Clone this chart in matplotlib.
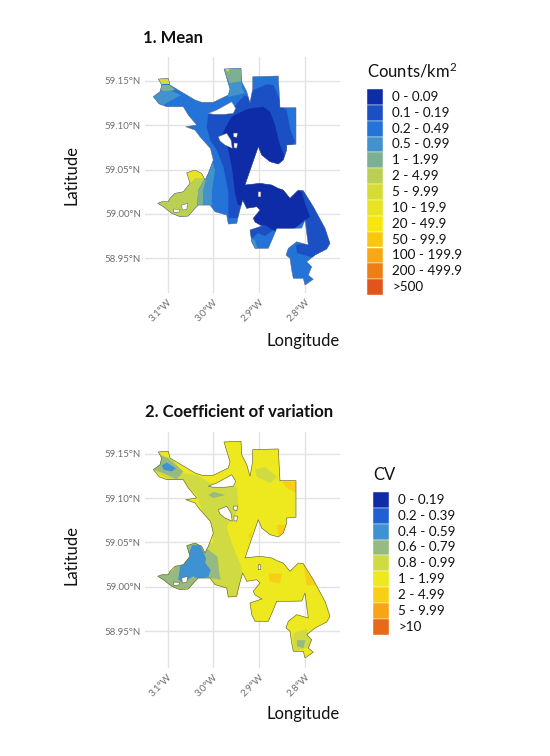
import numpy as np
import matplotlib
matplotlib.use("Agg")
import matplotlib.pyplot as plt
from matplotlib.path import Path
from matplotlib.patches import PathPatch, Rectangle

plt.rcParams['font.family'] = ['Lato', 'DejaVu Sans']
plt.rcParams['mathtext.default'] = 'regular'

# ---------- legend data ----------
mean_labels = ["0 - 0.09", "0.1 - 0.19", "0.2 - 0.49", "0.5 - 0.99", "1 - 1.99", "2 - 4.99", "5 - 9.99",
               "10 - 19.9", "20 - 49.9", "50 - 99.9", "100 - 199.9", "200 - 499.9", ">500"]
mean_colors = ["#0F2CA8", "#1A50C4", "#2473D8", "#4293CC", "#7DB092", "#BBD052", "#D5DC33",
               "#E8E325", "#F8E60F", "#F9C80E", "#F9A815", "#EE7F14", "#E2551A"]
cv_labels = ["0 - 0.19", "0.2 - 0.39", "0.4 - 0.59", "0.6 - 0.79", "0.8 - 0.99", "1 - 1.99", "2 - 4.99", "5 - 9.99", ">10"]
cv_colors = ["#0F2CA8", "#2060D0", "#3F92D2", "#97B982", "#D0DA42", "#EEE81E", "#F8CF14", "#F7A416", "#E86A18"]

lon_ticks = [-3.1, -3.0, -2.9, -2.8]
lon_ticklabels = ["3.1°W", "3.0°W", "2.9°W", "2.8°W"]
lat_ticks = [59.15, 59.10, 59.05, 59.00, 58.95]
lat_ticklabels = ["59.15°N", "59.10°N", "59.05°N", "59.00°N", "58.95°N"]

# ---------- survey-area boundary (lon, lat) ----------
boundary = [(-3.1206,59.1519),(-3.0987,59.1527),(-3.0950,59.1452),(-3.0768,59.1395),(-3.0584,59.1339),(-3.0403,59.1283),
 (-3.0256,59.1257),(-3.0002,59.1257),(-2.9674,59.1339),(-2.9637,59.1407),(-2.9768,59.1632),(-2.9396,59.1640),
 (-2.9381,59.1489),(-2.9271,59.1376),(-2.9199,59.1246),(-2.9140,59.1414),(-2.9140,59.1545),(-2.8580,59.1553),
 (-2.8543,59.1196),(-2.8193,59.1196),(-2.8193,59.0784),(-2.8396,59.0776),(-2.8396,59.0720),(-2.8471,59.0607),
 (-2.8580,59.0562),(-2.8762,59.0588),(-2.8943,59.0663),(-2.9018,59.0757),(-2.9309,59.0326),(-2.8980,59.0345),
 (-2.8724,59.0326),(-2.8580,59.0288),(-2.8471,59.0269),(-2.8324,59.0176),(-2.8142,59.0269),(-2.8033,59.0261),
 (-2.7814,59.0081),(-2.7558,58.9838),(-2.7449,58.9669),(-2.7521,58.9605),(-2.7777,58.9537),(-2.7959,58.9462),(-2.7849,58.9406),
 (-2.7924,58.9312),(-2.7814,58.9264),(-2.7996,58.9200),(-2.8033,58.9275),(-2.8252,58.9275),(-2.8287,58.9368),
 (-2.8324,58.9500),(-2.8412,58.9537),(-2.8361,58.9613),(-2.8178,58.9687),(-2.7924,58.9650),(-2.7996,58.9931),
 (-2.8068,58.9841),(-2.8324,58.9838),(-2.8615,58.9838),(-2.8689,58.9743),(-2.8799,58.9613),(-2.9090,58.9613),
 (-2.9162,58.9687),(-2.9199,58.9819),(-2.8937,58.9864),(-2.9090,58.9909),(-2.9127,58.9951),(-2.8980,59.0044),
 (-2.9053,59.0081),(-2.9271,59.0063),(-2.9359,59.0157),(-2.9418,59.0052),(-2.9455,58.9977),(-2.9490,58.9894),
 (-2.9674,58.9886),(-2.9709,58.9988),(-2.9965,59.0025),(-3.0074,59.0100),(-3.0330,59.0100),(-3.0403,59.0063),
 (-3.0549,58.9976),(-3.0731,58.9969),(-3.0912,59.0007),(-3.1096,59.0081),(-3.1219,59.0120),(-3.1131,59.0137),
 (-3.0987,59.0137),(-3.0950,59.0176),(-3.0840,59.0232),(-3.0659,59.0250),(-3.0512,59.0345),(-3.0584,59.0464),
 (-3.0403,59.0494),(-3.0256,59.0457),(-3.0184,59.0382),(-3.0112,59.0457),(-3.0002,59.0607),(-3.0064,59.0737),
 (-3.0293,59.0869),(-3.0403,59.0945),(-3.0606,59.0982),(-3.0365,59.1001),(-3.0549,59.1114),(-3.0659,59.1207),
 (-3.0731,59.1207),(-3.1022,59.1207),(-3.1190,59.1240),(-3.1315,59.1320),(-3.1168,59.1376),(-3.1131,59.1452)]
holes = [
 [(-3.0112,59.1133),(-2.9928,59.1170),(-2.9600,59.1263),(-2.9512,59.1189),(-2.9565,59.1133),(-2.9746,59.1122),(-3.0002,59.1122)],
 [(-2.9893,59.0869),(-2.9709,59.0908),(-2.9615,59.0832),(-2.9587,59.0739),(-2.9746,59.0776),(-2.9856,59.0821)],
 [(-2.956,59.091),(-2.947,59.091),(-2.949,59.086),(-2.956,59.087)],
 [(-2.955,59.080),(-2.947,59.0795),(-2.949,59.074),(-2.955,59.0745)],
 [(-3.0694,59.0100),(-3.0562,59.0119),(-3.0584,59.0052),(-3.0681,59.0044)],
 [(-3.0877,59.0055),(-3.0731,59.0050),(-3.0753,59.0022),(-3.0862,59.0016)],
 [(-2.9018,59.0250),(-2.8965,59.0250),(-2.8965,59.0194),(-2.9018,59.0194)],
]

# ---------- mean density classes: areas (lon, lat), painted in order ----------
mean_base_class = 2
mean_zones = [
 (1, [(-3.0112,59.1125),(-2.9615,59.1125),(-2.9490,59.1245),(-2.9309,59.1339),(-2.9199,59.1302),(-2.9127,59.1395),
      (-2.8834,59.1459),(-2.8689,59.1452),(-2.8558,59.1302),(-2.8506,59.1207),(-2.8396,59.1170),(-2.8324,59.0964),
      (-2.8215,59.0813),(-2.8324,59.0720),(-2.7339,59.0269),(-2.7230,58.9672),(-2.7624,58.9515),(-2.7865,58.9515),
      (-2.8171,58.9560),(-2.8193,58.9650),(-2.7924,58.9672),(-2.7996,58.9988),(-2.8630,58.9841),(-2.8871,58.9751),
      (-2.9024,58.9785),(-2.9199,58.9706),(-2.9309,58.9875),(-2.9352,59.0100),(-2.9455,58.9954),(-2.9674,58.9954),
      (-2.9674,59.0250),(-2.9783,59.0532),(-2.9928,59.0720),(-3.0074,59.0832),(-3.0147,59.0982)]),
 (0, [(-2.9600,59.1095),(-2.9309,59.1170),(-2.9199,59.1189),(-2.8908,59.1207),(-2.8762,59.1151),(-2.8653,59.1001),
      (-2.8543,59.0776),(-2.8455,59.0663),(-2.8324,59.0494),(-2.8280,59.0269),(-2.8068,59.0250),(-2.7996,59.0119),
      (-2.7887,58.9969),(-2.8018,58.9920),(-2.8324,58.9796),(-2.8630,58.9796),(-2.8871,58.9875),(-2.9199,58.9875),
      (-2.9309,59.0100),(-2.9462,59.0100),(-2.9527,59.0232),(-2.9587,59.0494),(-2.9674,59.0720),(-2.9805,59.0889),
      (-2.9746,59.0964)]),
 (3, [(-3.1344,59.1382),(-3.0993,59.1404),(-3.0709,59.1339),(-3.0950,59.1271),(-3.1125,59.1215),(-3.1387,59.1215)]),
 (3, [(-2.9724,59.1530),(-2.9374,59.1530),(-2.9374,59.1418),(-2.9309,59.1361),(-2.9681,59.1317)]),
 (3, [(-3.0112,59.0494),(-3.0031,59.0607),(-2.9965,59.0494),(-3.0031,59.0269),(-3.0037,59.0078),(-3.0228,59.0078),
      (-3.0221,59.0269),(-3.0184,59.0382)]),
 (3, [(-2.9199,58.9738),(-2.9090,58.9706),(-2.9024,58.9593),(-2.9199,58.9593)]),
 (5, [(-3.139,59.053),(-3.014,59.053),(-3.0184,59.0404),(-3.0330,59.0269),(-3.0359,59.0078),(-3.04,58.99),(-3.139,58.99)]),
 (4, [(-3.0184,59.0404),(-3.0140,59.0438),(-3.0221,59.0269),(-3.0228,59.0078),(-3.0359,59.0078),(-3.0330,59.0269)]),
 (4, [(-3.1131,59.1452),(-3.0950,59.1452),(-3.0840,59.1395),(-3.1059,59.1384),(-3.1168,59.1395)]),
 (4, [(-2.9768,59.1640),(-2.9396,59.1640),(-2.9396,59.1495),(-2.9637,59.1474),(-2.9724,59.1556)]),
 (6, [(-3.1278,59.1564),(-3.0906,59.1564),(-3.0950,59.1463),(-3.1147,59.1463)]),
 (6, [(-2.9812,59.1677),(-2.9593,59.1677),(-2.9681,59.1598)]),
 (7, [(-3.0606,59.0494),(-3.0256,59.0494),(-3.0184,59.0404),(-3.0403,59.0404),(-3.0512,59.0345)]),
]

# ---------- CV classes ----------
cv_base_class = 5
cv_zones = [
 (4, [(-3.135,59.132),(-3.117,59.150),(-3.088,59.143),(-3.066,59.128),(-3.036,59.126),(-3.007,59.117),(-2.949,59.113),
      (-2.945,59.087),(-2.971,59.068),(-2.960,59.049),(-2.942,59.027),(-2.934,59.012),(-2.942,58.993),(-2.963,58.985),
      (-2.993,59.004),(-3.015,59.027),(-3.000,59.053),(-3.004,59.068),(-3.026,59.087),(-3.036,59.1035),(-3.058,59.113),
      (-3.095,59.120)]),
 (4, [(-2.909,59.132),(-2.887,59.135),(-2.861,59.124),(-2.876,59.117),(-2.905,59.124)]),
 (4, [(-2.825,58.948),(-2.796,58.953),(-2.782,58.933),(-2.825,58.927)]),
 (4, [(-3.120,59.010),(-3.066,59.019),(-3.062,59.049),(-3.000,59.049),(-2.989,59.000),(-3.051,58.993),(-3.102,58.996)]),
 (3, [(-3.120,59.012),(-3.088,59.019),(-3.062,59.049),(-3.029,59.049),(-2.991,59.034),(-2.987,59.015),(-2.984,59.008),
      (-3.007,59.010),(-3.044,59.000),(-3.080,58.996),(-3.109,59.002)]),
 (3, [(-3.130,59.132),(-3.117,59.148),(-3.099,59.145),(-3.066,59.130),(-3.080,59.121),(-3.109,59.128)]),
 (3, [(-3.011,59.1035),(-3.000,59.107),(-2.974,59.1035),(-3.000,59.100)]),
 (3, [(-2.817,58.940),(-2.799,58.940),(-2.803,58.931),(-2.817,58.933)]),
 (2, [(-3.058,59.032),(-3.047,59.047),(-3.029,59.047),(-3.016,59.032),(-3.018,59.027),(-3.006,59.019),(-3.011,59.011),
      (-3.033,59.009),(-3.044,59.012),(-3.066,59.005),(-3.077,59.008),(-3.073,59.023)]),
 (2, [(-3.113,59.137),(-3.102,59.140),(-3.082,59.1335),(-3.091,59.130),(-3.109,59.132)]),
 (6, [(-2.880,59.015),(-2.850,59.015),(-2.854,59.004),(-2.876,59.006)]),
 (6, [(-2.803,59.027),(-2.792,59.015),(-2.775,59.002),(-2.796,59.002)]),
 (6, [(-2.861,59.070),(-2.839,59.070),(-2.843,59.062),(-2.858,59.0585)]),
 (6, [(-2.850,59.1185),(-2.814,59.1185),(-2.814,59.105),(-2.839,59.111)]),
 (6, [(-2.923,59.0585),(-2.916,59.062),(-2.920,59.053)]),
]

W, H = 550, 756
fig = plt.figure(figsize=(W / 100, H / 100), dpi=100, facecolor="white")


def signed_area(p):
    a = np.asarray(p)
    return 0.5 * np.sum(a[:, 0] * np.roll(a[:, 1], -1) - np.roll(a[:, 0], -1) * a[:, 1])


def ring(p, sign):
    p = list(p)
    if np.sign(signed_area(p)) != sign:
        p = p[::-1]
    return p


def area_path():
    verts, codes = [], []
    for i, r in enumerate([boundary] + holes):
        q = ring(r, 1 if i == 0 else -1)
        verts += q + [q[0]]
        codes += [Path.MOVETO] + [Path.LINETO] * (len(q) - 1) + [Path.CLOSEPOLY]
    return Path(verts, codes)


def draw_map(top, bottom, xlim, ylim, colors, base, zones, edge, edge_lw):
    ax = fig.add_axes([145 / W, 1 - bottom / H, 195 / W, (bottom - top) / H])
    ax.set_xlim(*xlim)
    ax.set_ylim(*ylim)
    ax.set_axisbelow(True)
    ax.grid(True, color="#e2e2e2", lw=1.0)
    for s in ax.spines.values():
        s.set_visible(False)
    ax.set_xticks(lon_ticks, lon_ticklabels, rotation=45, ha="right", rotation_mode="anchor")
    ax.set_yticks(lat_ticks, lat_ticklabels)
    ax.tick_params(length=0, labelsize=7, labelcolor="#6e6e6e", pad=3)
    path = area_path()
    clip = PathPatch(path, fc=colors[base], ec="none", zorder=2)
    ax.add_patch(clip)
    for cls, poly in zones:
        xs, ys = zip(*poly)
        for art in ax.fill(xs, ys, color=colors[cls], lw=0, zorder=3):
            art.set_clip_path(clip)
    for h in holes:
        xs, ys = zip(*h)
        ax.fill(xs, ys, color="white", lw=0, zorder=3.5)
    ax.add_patch(PathPatch(path, fc="none", ec=edge, lw=edge_lw, zorder=4))
    return ax


def draw_legend(x0, y0, title, title_y, labels, colors):
    bg = fig.add_axes([0, 0, 1, 1], facecolor="none", zorder=5)
    bg.set_xlim(0, W)
    bg.set_ylim(H, 0)
    bg.axis("off")
    step = 15.85
    for i, (lab, col) in enumerate(zip(labels, colors)):
        bg.add_patch(Rectangle((x0, y0 + i * step), 16, step, fc=col, ec="#ffffff", lw=0.3))
        bg.text(x0 + 25, y0 + (i + 0.5) * step, lab, fontsize=9.7, va="center", ha="left", color="#111111")
    bg.text(x0, title_y, title, fontsize=12, va="center", ha="left", color="#111111")


draw_map(57, 293, (-3.1497, -2.723), (58.911, 59.1767), mean_colors, mean_base_class, mean_zones, "#5a6680", 0.35)
draw_map(432, 668, (-3.1497, -2.723), (58.9087, 59.1744), cv_colors, cv_base_class, cv_zones, "#66662a", 0.45)
draw_legend(367, 89, "Counts/km$^2$", 71, mean_labels, mean_colors)
draw_legend(373, 492, "CV", 475, cv_labels, cv_colors)

fig.text(143 / W, 1 - 38 / H, "1. Mean", fontsize=12, fontweight="bold", va="center", color="#111111")
fig.text(145 / W, 1 - 412 / H, "2. Coefficient of variation", fontsize=12, fontweight="bold", va="center", color="#111111")
for ycen in (175, 555):
    fig.text(72 / W, 1 - ycen / H, "Latitude", fontsize=12, rotation=90, va="center", ha="center", color="#111111")
for ycen in (341, 714):
    fig.text(340 / W, 1 - ycen / H, "Longitude", fontsize=12, va="center", ha="right", color="#111111")

fig.savefig("out.png", dpi=100)
